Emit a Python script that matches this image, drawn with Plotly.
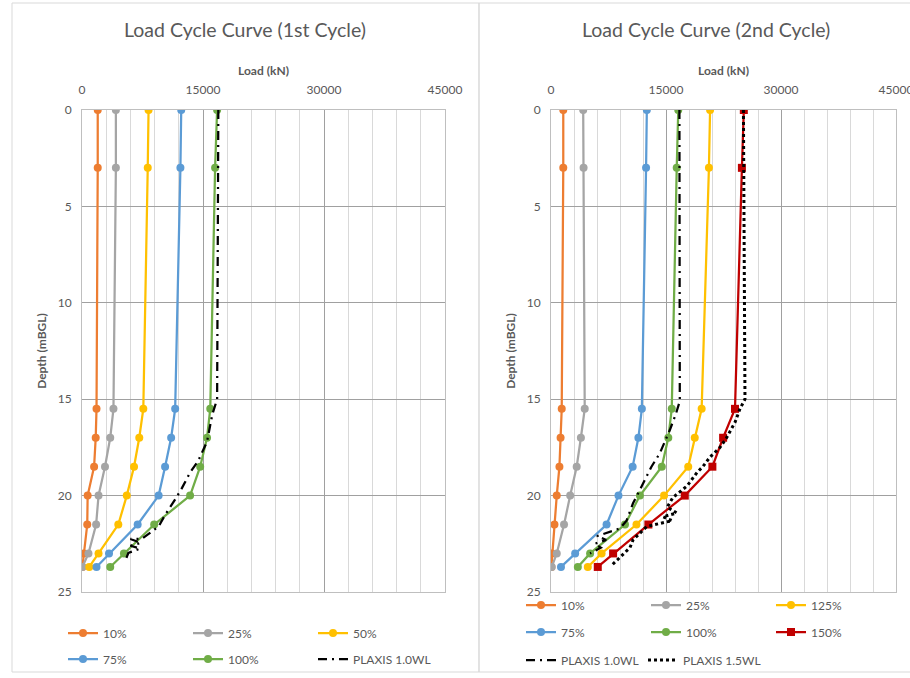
import plotly.graph_objects as go

# ---------------- data ----------------
DEPTH = [0, 3, 15.5, 17, 18.5, 20, 21.5, 23, 23.7]

# 1st cycle loads (kN)
C1_10 = [1950, 1950, 1800, 1700, 1500, 700, 650, 200, 50]
C1_25 = [4200, 4200, 3900, 3500, 2850, 2050, 1750, 800, 50]
C1_50 = [8250, 8150, 7600, 7100, 6450, 5550, 4500, 2050, 900]
C1_75 = [12300, 12200, 11550, 11050, 10300, 9500, 6900, 3350, 1800]
C1_100 = [16750, 16500, 15900, 15500, 14650, 13400, 8950, 5200, 3500]

C1_PLX_DEPTH = [0, 14.5, 15.0, 15.8, 17.2, 18.2, 18.8, 19.6, 20.2, 21.0, 21.6, 22.25, 22.25, 22.45, 22.6, 22.75, 22.97, 23.4]
C1_PLX_LOAD = [16900, 16800, 16750, 16150, 15500, 14400, 13400, 12400, 11550, 10300, 9500, 7400, 6000, 7300, 6000, 7200, 5750, 5350]

# 2nd cycle loads (kN)
C2_10 = [1600, 1600, 1400, 1250, 1100, 750, 450, 100, 50]
C2_25 = [4200, 4250, 4400, 3900, 3350, 2500, 1700, 750, 100]
C2_75 = [12500, 12400, 11850, 11400, 10650, 8800, 7250, 3150, 1300]
C2_100 = [16600, 16400, 15750, 15300, 14450, 11600, 9650, 5100, 3500]
C2_125 = [20750, 20600, 19650, 18750, 17900, 14750, 11150, 6600, 4800]
C2_150 = [25150, 24900, 24000, 22450, 21050, 17450, 12700, 8100, 6100]

C2_PLX1_DEPTH = [0, 14.0, 15.1, 15.75, 16.6, 17.8, 18.5, 19.7, 20.4, 21.3, 21.7, 22.1, 22.3, 22.5, 22.7, 23.0]
C2_PLX1_LOAD = [16750, 16750, 16800, 16300, 15500, 14200, 13100, 11600, 10700, 9850, 9000, 6000, 7200, 5700, 6500, 5100]

C2_PLX15_DEPTH = [0, 14.0, 15.0, 15.5, 16.2, 17.0, 17.5, 18.0, 18.5, 18.8, 19.5, 20.1, 20.6, 20.9, 21.1, 21.3, 21.6, 22.3, 22.7, 23.2, 23.6]
C2_PLX15_LOAD = [25100, 25250, 25300, 24650, 24000, 22900, 22050, 20750, 19800, 19050, 17750, 15900, 15150, 16400, 14600, 15800, 12500, 10700, 10300, 9000, 7950]

X_TICKS = [0, 15000, 30000, 45000]
Y_TICKS = [0, 5, 10, 15, 20, 25]

TITLE_1 = "Load Cycle Curve (1st Cycle)"
TITLE_2 = "Load Cycle Curve (2nd Cycle)"

# ---------------- styles ----------------
ORANGE = "#ED7D31"
GRAY = "#A5A5A5"
YELLOW = "#FFC000"
BLUE = "#5B9BD5"
GREEN = "#70AD47"
RED = "#C00000"
TXT = "#595959"
FONT = "Lato"

W, H = 910, 678


def px_x(p):
    return p / W


def px_y(p):
    return 1 - p / H


fig = go.Figure()


def series(x, y, name, color, xa, ya, legend, symbol="circle"):
    fig.add_trace(go.Scatter(
        x=x, y=y, name=name, mode="lines+markers",
        line=dict(color=color, width=2.25),
        marker=dict(color=color, size=8, symbol=symbol),
        xaxis=xa, yaxis=ya, legend=legend,
    ))


# left chart
series(C1_10, DEPTH, "10%", ORANGE, "x", "y", "legend")
series(C1_25, DEPTH, "25%", GRAY, "x", "y", "legend")
series(C1_50, DEPTH, "50%", YELLOW, "x", "y", "legend")
series(C1_75, DEPTH, "75%", BLUE, "x", "y", "legend2")
series(C1_100, DEPTH, "100%", GREEN, "x", "y", "legend2")
fig.add_trace(go.Scatter(
    x=C1_PLX_LOAD, y=C1_PLX_DEPTH, name="PLAXIS 1.0WL", mode="lines",
    line=dict(color="black", width=2.25, dash="9px,5px,2px,5px"),
    xaxis="x", yaxis="y", legend="legend2"))

# right chart
series(C2_10, DEPTH, "10%", ORANGE, "x2", "y2", "legend3")
series(C2_25, DEPTH, "25%", GRAY, "x2", "y2", "legend3")
series(C2_125, DEPTH, "125%", YELLOW, "x2", "y2", "legend3")
series(C2_75, DEPTH, "75%", BLUE, "x2", "y2", "legend4")
series(C2_100, DEPTH, "100%", GREEN, "x2", "y2", "legend4")
series(C2_150, DEPTH, "150%", RED, "x2", "y2", "legend4", symbol="square")
fig.add_trace(go.Scatter(
    x=C2_PLX1_LOAD, y=C2_PLX1_DEPTH, name="PLAXIS 1.0WL", mode="lines",
    line=dict(color="black", width=2.25, dash="9px,5px,2px,5px"),
    xaxis="x2", yaxis="y2", legend="legend5"))
fig.add_trace(go.Scatter(
    x=C2_PLX15_LOAD, y=C2_PLX15_DEPTH, name="PLAXIS 1.5WL", mode="lines",
    line=dict(color="black", width=3, dash="dot"),
    xaxis="x2", yaxis="y2", legend="legend5"))

ydom = [px_y(592), px_y(110)]


def xaxis(dom, anchor):
    return dict(
        domain=dom, anchor=anchor, side="top", range=[0, 45000],
        tickvals=X_TICKS, tickformat="d", ticks="", automargin=False,
        ticklabeloverflow="allow", ticklabelstandoff=10,
        tickfont=dict(family=FONT, size=12, color=TXT),
        showgrid=True, gridcolor="#A0A0A0", gridwidth=1.3,
        minor=dict(dtick=3000, tick0=0, showgrid=True, gridcolor="#D9D9D9", gridwidth=1),
        showline=True, linecolor="#BFBFBF", linewidth=1, mirror=True,
        zeroline=False,
        title=dict(text="<b>Load (kN)</b>", font=dict(family=FONT, size=12, color=TXT), standoff=4),
    )


def yaxis(anchor):
    return dict(
        domain=ydom, anchor=anchor, range=[25, 0], automargin=False,
        tickvals=Y_TICKS, ticks="", ticklabelstandoff=7,
        tickfont=dict(family=FONT, size=12, color=TXT),
        showgrid=True, gridcolor="#A0A0A0", gridwidth=1.3,
        showline=True, linecolor="#BFBFBF", linewidth=1, mirror=True,
        zeroline=False,
        title=dict(text="<b>Depth (mBGL)</b>", font=dict(family=FONT, size=12, color=TXT), standoff=8),
    )


def legend(x, y, ew):
    return dict(
        orientation="h", x=x, y=y, xanchor="left", yanchor="middle",
        xref="paper", yref="paper",
        font=dict(family=FONT, size=12, color=TXT),
        bgcolor="rgba(0,0,0,0)", entrywidth=ew, entrywidthmode="pixels",
        itemclick=False, itemdoubleclick=False,
    )


fig.update_layout(
    width=W, height=H, autosize=False,
    margin=dict(l=0, r=0, t=0, b=0, autoexpand=False),
    paper_bgcolor="white", plot_bgcolor="white",
    font=dict(family=FONT, color=TXT),
    showlegend=True,
    xaxis=xaxis([px_x(82), px_x(445)], "y"),
    yaxis=yaxis("x"),
    xaxis2=xaxis([px_x(551), px_x(896)], "y2"),
    yaxis2=yaxis("x2"),
    legend=legend(px_x(63), px_y(633), 80),
    legend2=legend(px_x(63), px_y(659), 80),
    legend3=legend(px_x(521), px_y(605), 80),
    legend4=legend(px_x(521), px_y(632), 80),
    legend5=legend(px_x(521), px_y(660), 77),
    shapes=[
        dict(type="rect", xref="paper", yref="paper",
             x0=px_x(12), x1=px_x(479), y0=px_y(672), y1=px_y(3),
             line=dict(color="#D9D9D9", width=1)),
        dict(type="rect", xref="paper", yref="paper",
             x0=px_x(479), x1=px_x(920), y0=px_y(672), y1=px_y(3),
             line=dict(color="#D9D9D9", width=1)),
    ],
    annotations=[
        dict(text=TITLE_1, x=px_x(245), y=px_y(30), xref="paper", yref="paper",
             xanchor="center", yanchor="middle",
             showarrow=False, font=dict(family=FONT, size=19.5, color=TXT)),
        dict(text=TITLE_2, x=px_x(706), y=px_y(30), xref="paper", yref="paper",
             xanchor="center", yanchor="middle",
             showarrow=False, font=dict(family=FONT, size=19.5, color=TXT)),
    ],
)

fig.write_html("out.html", post_script="document.body.style.margin='0px';",
               config={"displayModeBar": False})
